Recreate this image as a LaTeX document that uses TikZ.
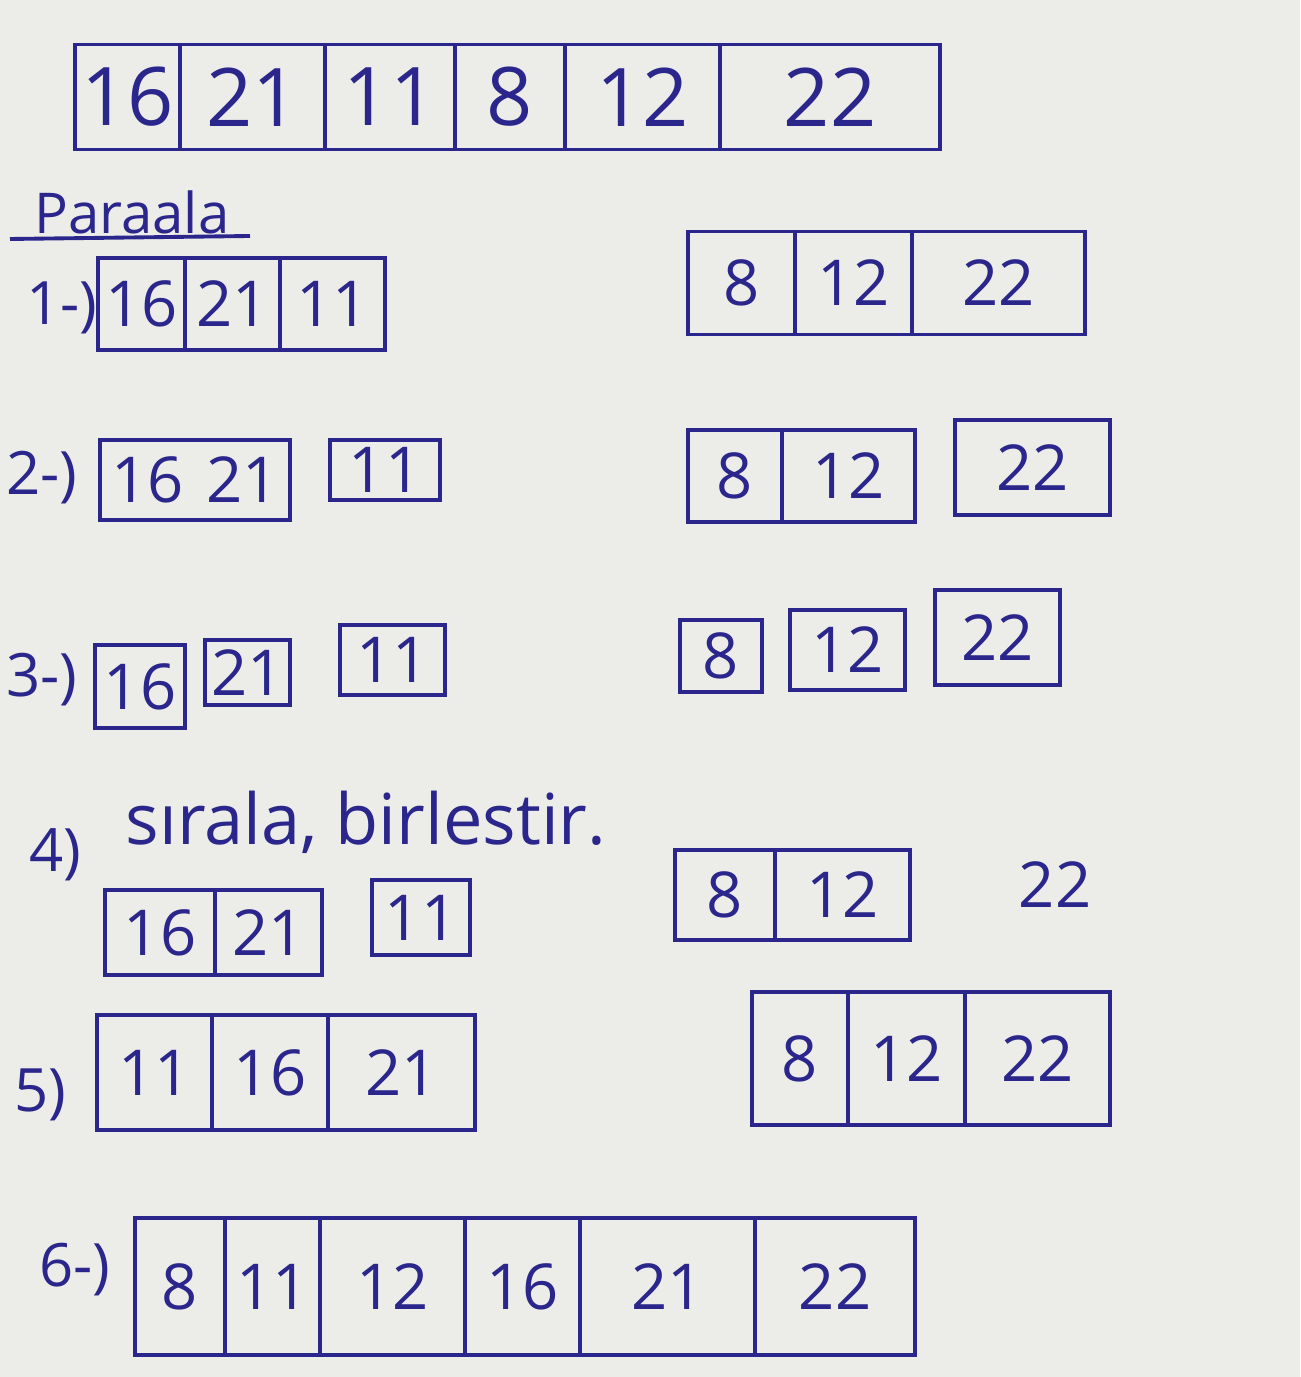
\documentclass[tikz,border=0pt]{standalone}
\usepackage{fontspec}
\setmainfont{Open Sans}
\definecolor{ink}{RGB}{42,38,140}
\definecolor{paper}{RGB}{236,236,232}
\begin{document}
\begin{tikzpicture}
    [%%%%%%%%%%%%%%%%%%%%%%%%%%%%%%
        x=0.01cm,y=-0.01cm,
        cell/.style={rectangle,draw=ink,line width=1.1pt,inner sep=0pt,text=ink,font=\fontsize{18}{18}\selectfont},
        bigcell/.style={cell,font=\fontsize{23}{23}\selectfont},
        lbl/.style={text=ink,inner sep=0pt,font=\fontsize{17}{17}\selectfont}
    ]%%%%%%%%%%%%%%%%%%%%%%%%%%%%%%

\fill[paper] (0,0) rectangle (1300,1377);
\useasboundingbox (0,0) rectangle (1300,1377);

% ana dizi
\foreach \n/\x/\w/\t in {a1/127.5/1.05/16,a2/252.5/1.45/21,a3/390/1.30/11,a4/510/1.10/8,a5/642.5/1.55/12,a6/830/2.20/22}
    \node[bigcell,minimum width=\w cm,minimum height=1.05cm] (\n) at (\x,97) {\t};

\node[lbl,font=\fontsize{16}{16}\selectfont] (parcala) at (132,212) {Paraala};
\coordinate (ul1) at (10,239);
\coordinate (ul2) at (250,236);
\draw[ink,line width=1.1pt] (ul1) -- (ul2);

% 1
\node[lbl] (s1) at (62,308) {1-)};
\foreach \n/\x/\w/\t in {b1/141.5/0.87/16,b2/232.5/0.95/21,b3/332.5/1.05/11}
    \node[cell,minimum width=\w cm,minimum height=0.92cm] (\n) at (\x,304) {\t};
\foreach \n/\x/\w/\t in {c1/741.5/1.07/8,c2/853.5/1.17/12,c3/998.5/1.73/22}
    \node[cell,minimum width=\w cm,minimum height=1.03cm] (\n) at (\x,283) {\t};

% 2
\node[lbl] (s2) at (42,478) {2-)};
\node[cell,minimum width=1.90cm,minimum height=0.80cm] (d1) at (195,480) {16\hspace{0.35em}21};
\node[cell,minimum width=1.10cm,minimum height=0.60cm] (d2) at (385,470) {11};
\foreach \n/\x/\w/\t in {e1/735/0.94/8,e2/848.5/1.33/12}
    \node[cell,minimum width=\w cm,minimum height=0.92cm] (\n) at (\x,476) {\t};
\node[cell,minimum width=1.55cm,minimum height=0.95cm] (e3) at (1032.5,467.5) {22};

% 3
\node[lbl] (s3) at (42,680) {3-)};
\node[cell,minimum width=0.90cm,minimum height=0.83cm] (f1) at (140,686.5) {16};
\node[cell,minimum width=0.85cm,minimum height=0.65cm] (f2) at (247.5,672.5) {21};
\node[cell,minimum width=1.05cm,minimum height=0.70cm] (f3) at (392.5,660) {11};
\node[cell,minimum width=0.82cm,minimum height=0.72cm] (g1) at (721,656) {8};
\node[cell,minimum width=1.15cm,minimum height=0.80cm] (g2) at (847.5,650) {12};
\node[cell,minimum width=1.25cm,minimum height=0.95cm] (g3) at (997.5,637.5) {22};

% 4
\node[lbl] (s4) at (55,855) {4)};
\node[lbl,anchor=west,font=\fontsize{20}{20}\selectfont] (not) at (125,822) {sırala, birlestir.};
\foreach \n/\x/\w/\t in {h1/160/1.10/16,h2/268.5/1.07/21}
    \node[cell,minimum width=\w cm,minimum height=0.85cm] (\n) at (\x,932.5) {\t};
\node[cell,minimum width=0.98cm,minimum height=0.75cm] (h3) at (421,917.5) {11};
\foreach \n/\x/\w/\t in {i1/725/1.00/8,i2/842.5/1.35/12}
    \node[cell,minimum width=\w cm,minimum height=0.90cm] (\n) at (\x,895) {\t};
\node[lbl,font=\fontsize{18}{18}\selectfont] (i3) at (1055,885) {22};

% 5
\node[lbl] (s5) at (40,1095) {5)};
\foreach \n/\x/\w/\t in {j1/154.5/1.15/11,j2/270/1.16/16,j3/401.5/1.47/21}
    \node[cell,minimum width=\w cm,minimum height=1.15cm] (\n) at (\x,1072.5) {\t};
\foreach \n/\x/\w/\t in {k1/800/0.96/8,k2/906.5/1.17/12,k3/1037.5/1.45/22}
    \node[cell,minimum width=\w cm,minimum height=1.33cm] (\n) at (\x,1058.5) {\t};

% 6
\node[lbl] (s6) at (75,1270) {6-)};
\foreach \n/\x/\w/\t in {m1/180/0.90/8,m2/272.5/0.95/11,m3/392.5/1.45/12,m4/522.5/1.15/16,m5/667.5/1.75/21,m6/835/1.60/22}
    \node[cell,minimum width=\w cm,minimum height=1.37cm] (\n) at (\x,1286.5) {\t};

\end{tikzpicture}
\end{document}
